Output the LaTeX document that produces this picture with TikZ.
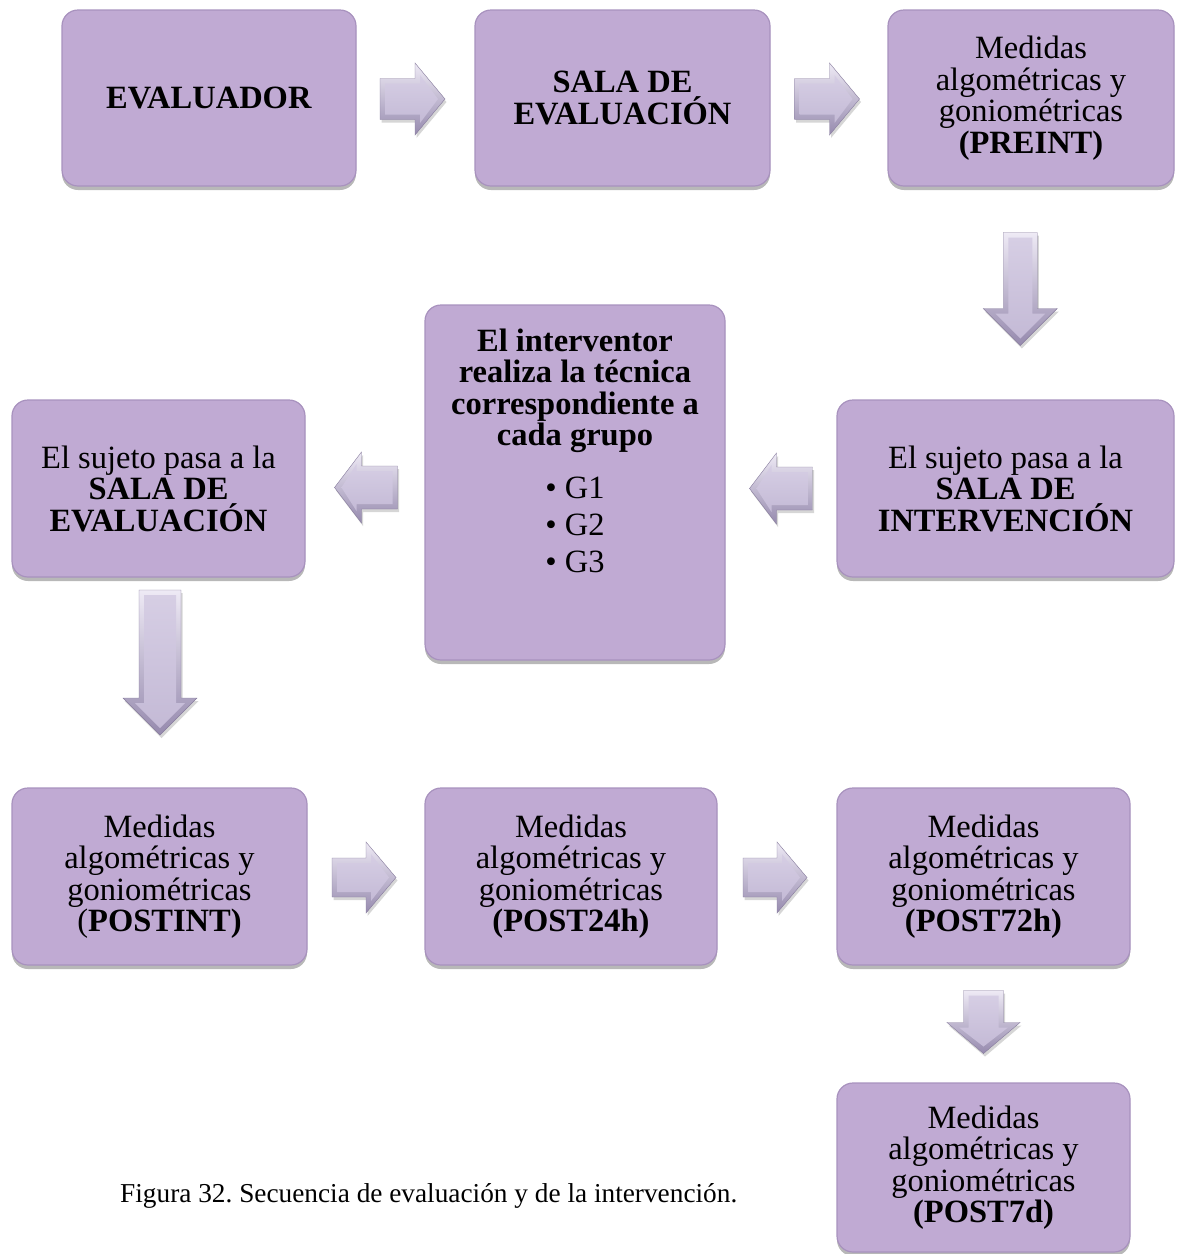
\documentclass[tikz,border=0pt]{standalone}
\usepackage{fontspec}
\setmainfont{Liberation Serif}
\usetikzlibrary{calc,shadows}
\frenchspacing

\definecolor{boxfill}{RGB}{192,170,211}
\definecolor{boxline}{RGB}{168,146,190}
\definecolor{rimlight}{RGB}{238,234,245}
\definecolor{rimdark}{RGB}{150,138,174}
\definecolor{facelight}{RGB}{214,206,228}
\definecolor{facedark}{RGB}{196,186,214}

\newcommand{\boxfont}{\fontsize{32.5}{31.5}\selectfont}
\newcommand{\capfont}{\fontsize{27.3}{32}\selectfont}

% outline of a block arrow pointing along +x, centred on the origin
% #1 length, #2 half shaft width, #3 half head width, #4 head length
\newcommand{\arrowpoly}[4]{%
  ({-(#1)/2},{-(#2)}) -- ({(#1)/2-(#4)},{-(#2)}) -- ({(#1)/2-(#4)},{-(#3)}) -- ({(#1)/2},0)
  -- ({(#1)/2-(#4)},{#3}) -- ({(#1)/2-(#4)},{#2}) -- ({-(#1)/2},{#2}) -- cycle}

% bevelled block arrow at a named coordinate
% #1 coordinate, #2 direction, #3 length, #4 half shaft, #5 half head, #6 head length
\newcommand{\blockarrow}[6]{%
  \begin{scope}[shift={(#1)}]
    \begin{scope}[shift={(1.5,3)}, rotate=#2]
      \fill[black, opacity=0.16] \arrowpoly{#3}{#4}{#5}{#6};
    \end{scope}
    \begin{scope}[rotate=#2]
      \path[arrowrim] \arrowpoly{#3}{#4}{#5}{#6};
      \begin{scope}[shift={(-1,0)}]
        \path[arrowface] \arrowpoly{#3-12}{#4-5}{#5-12}{#6-12};
      \end{scope}
    \end{scope}
  \end{scope}}

\tikzset{
  stepbox/.style={
    rectangle, rounded corners=16pt, draw=boxline, line width=1.2pt,
    fill=boxfill, inner sep=0pt, align=center, font=\boxfont,
    drop shadow={shadow xshift=0pt, shadow yshift=-4pt, opacity=0.28, fill=black}},
  boxtext/.style={inner sep=0pt, align=center, font=\boxfont},
  arrowrim/.style={
    top color=rimlight, bottom color=rimdark,
    draw=rimdark!90!black, line width=0.4pt, line join=miter},
  arrowface/.style={top color=facelight, bottom color=facedark},
}

\begin{document}
\begin{tikzpicture}[x=1pt, y=-1pt]
  \useasboundingbox (0,0) rectangle (1179,1254);

  % top row
  \node[stepbox, minimum width=294pt, minimum height=176pt] (b1) at (209,98)
    {\textbf{EVALUADOR}};
  \node[stepbox, minimum width=295pt, minimum height=176pt] (b2) at (622.5,98)
    {\textbf{SALA DE}\\\textbf{EVALUACIÓN}};
  \node[stepbox, minimum width=286pt, minimum height=176pt] (b3) at (1031,98)
    {Medidas\\algométricas y\\goniométricas\\\textbf{(PREINT)}};

  % middle row
  \node[stepbox, minimum width=337pt, minimum height=177pt] (b4) at (1005.5,488.5)
    {El sujeto pasa a la\\\textbf{SALA DE}\\\textbf{INTERVENCIÓN}};
  \node[stepbox, minimum width=300pt, minimum height=355pt] (b5) at (575,482.5) {};
  \node[boxtext, anchor=north] (b5t) at ($(b5.north)+(0,24)$)
    {\textbf{El interventor}\\\textbf{realiza la técnica}\\\textbf{correspondiente a}\\\textbf{cada grupo}\\[21pt]
     • G1\\[6pt]• G2\\[5pt]• G3};
  \node[stepbox, minimum width=293pt, minimum height=177pt] (b6) at (158.5,488.5)
    {El sujeto pasa a la\\\textbf{SALA DE}\\\textbf{EVALUACIÓN}};

  % bottom row
  \node[stepbox, minimum width=295pt, minimum height=177pt] (b7) at (159.5,876.5)
    {Medidas\\algométricas y\\goniométricas\\(\textbf{POSTINT)}};
  \node[stepbox, minimum width=292pt, minimum height=177pt] (b8) at (571,876.5)
    {Medidas\\algométricas y\\goniométricas\\\textbf{(POST24h)}};
  \node[stepbox, minimum width=293pt, minimum height=177pt] (b9) at (983.5,876.5)
    {Medidas\\algométricas y\\goniométricas\\\textbf{(POST72h)}};
  \node[stepbox, minimum width=293pt, minimum height=169pt] (b10) at (983.5,1167.5)
    {Medidas\\algométricas y\\goniométricas\\\textbf{(POST7d)}};

  % arrow positions
  \coordinate (a1) at ($(b1.east)!0.5!(b2.west)+(-3,1)$);
  \coordinate (a2) at ($(b2.east)!0.5!(b3.west)+(-2,1)$);
  \coordinate (a3) at ($(b3.south)!0.5!(b4.north)+(2,-4)$);
  \coordinate (a4) at ($(b4.west)!0.5!(b5.east|-b4.west)$);
  \coordinate (a5) at ($(b5.west|-b6.east)!0.5!(b6.east)+(1,-1)$);
  \coordinate (a6) at ($(b6.south)!0.5!(b7.north)+(1,-20)$);
  \coordinate (a7) at ($(b7.east)!0.5!(b8.west)+(-2,1)$);
  \coordinate (a8) at ($(b8.east)!0.5!(b9.west)+(-2,1)$);
  \coordinate (a9) at ($(b9.south)!0.5!(b10.north)+(0,-2)$);

  \blockarrow{a1}{0}{65}{20.5}{36}{30}
  \blockarrow{a2}{0}{65}{20.5}{36}{30}
  \blockarrow{a3}{-90}{113}{17}{37}{37}
  \blockarrow{a4}{180}{63}{21.5}{35.5}{27}
  \blockarrow{a5}{180}{63}{21.5}{35.5}{27}
  \blockarrow{a6}{-90}{145}{21}{37}{37}
  \blockarrow{a7}{0}{64}{19.5}{35.5}{30}
  \blockarrow{a8}{0}{64}{19.5}{35.5}{30}
  \blockarrow{a9}{-90}{63}{20}{36.5}{31}

  % caption
  \node[anchor=base west, inner sep=0pt, font=\capfont] (cap) at (120,1202)
    {Figura 32. Secuencia de evaluación y de la intervención.};
\end{tikzpicture}
\end{document}
